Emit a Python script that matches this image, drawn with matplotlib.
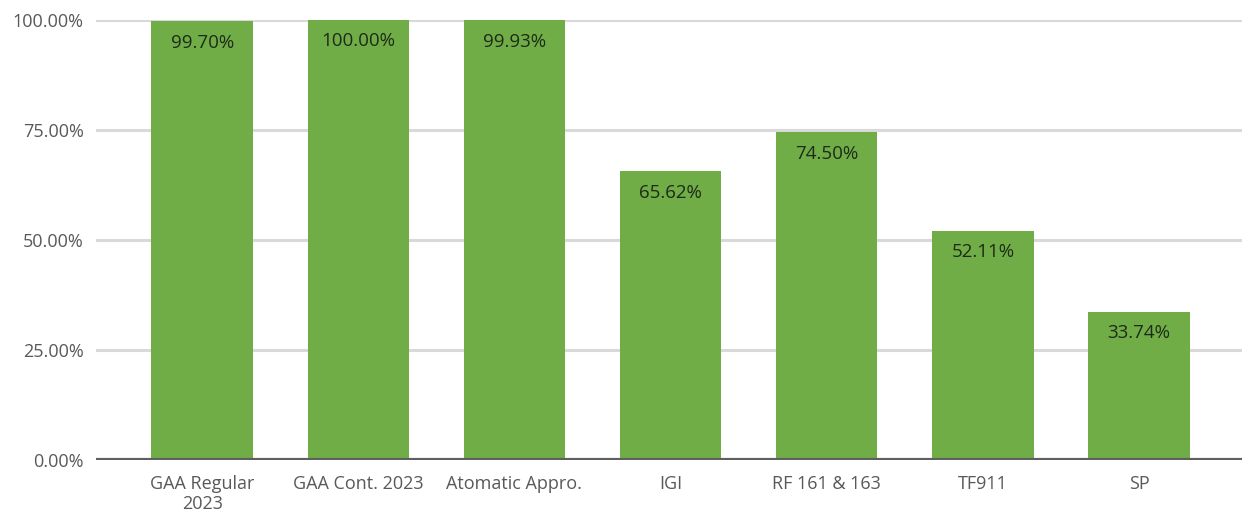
import matplotlib
matplotlib.use("Agg")
import matplotlib.pyplot as plt
from matplotlib.ticker import FuncFormatter

categories = ["GAA Regular\n2023", "GAA Cont. 2023", "Atomatic Appro.", "IGI", "RF 161 & 163", "TF911", "SP"]
values = [99.70, 100.00, 99.93, 65.62, 74.50, 52.11, 33.74]
yticks = [0, 25, 50, 75, 100]

plt.rcParams['font.family'] = ['Open Sans', 'DejaVu Sans']

fig = plt.figure(figsize=(12.47, 5.2), dpi=100)
ax = fig.add_axes([0.077, 0.1154, 0.919, 0.8462])

x = list(range(len(categories)))
ax.bar(x, values, width=0.65, color="#70AD47", zorder=3)

for xi, v in zip(x, values):
    ax.annotate(f"{v:.2f}%", (xi, v), xytext=(0, -15.5), textcoords="offset points",
                ha="center", va="center", fontsize=13.5, color="#1e2b18", zorder=4)

ax.set_xlim(-0.68, 6.66)
ax.set_ylim(0, 100)
ax.set_yticks(yticks)
ax.yaxis.set_major_formatter(FuncFormatter(lambda v, p: f"{v:.2f}%"))
ax.set_xticks(x)
ax.set_xticklabels(categories)
ax.grid(axis="y", color="#d9d9d9", linewidth=2.2, zorder=0)
ax.axhline(0, color="#5f5f5f", linewidth=3, zorder=4)
for s in ax.spines.values():
    s.set_visible(False)
ax.tick_params(axis="both", length=0, labelsize=13, colors="#595959")
ax.tick_params(axis="y", pad=9)
ax.tick_params(axis="x", pad=11)
for lab in ax.get_xticklabels():
    lab.set_linespacing(1.15)

fig.savefig("out.png", dpi=100)
